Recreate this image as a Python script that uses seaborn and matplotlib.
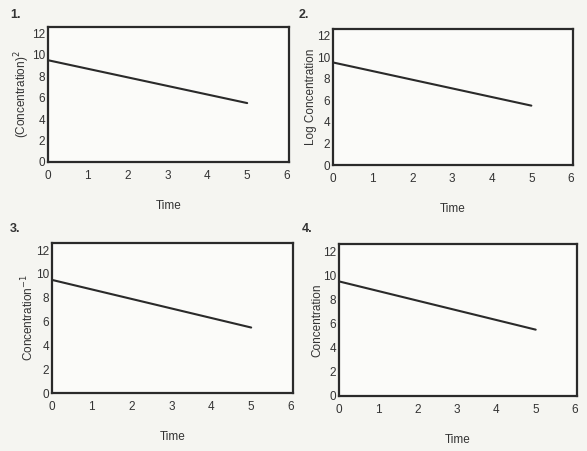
import matplotlib
matplotlib.use("Agg")
import matplotlib.pyplot as plt
import seaborn as sns
import pandas as pd

sns.set_theme(style="white")
plt.rcParams['font.family'] = ['Liberation Sans', 'DejaVu Sans']

time = [0, 5]
values = [9.5, 5.5]
x_ticks = [0, 1, 2, 3, 4, 5, 6]
y_ticks = [0, 2, 4, 6, 8, 10, 12]
panel_numbers = ["1.", "2.", "3.", "4."]
y_labels = ["(Concentration)$^2$", "Log Concentration", "Concentration$^{-1}$", "Concentration"]
x_label = "Time"

df = pd.DataFrame({"Time": time, "Value": values})

W, H = 587, 451
fig = plt.figure(figsize=(W / 100, H / 100), dpi=100)
fig.patch.set_facecolor("#f5f5f1")

# (left, top, right, bottom) in pixels
boxes = [(48, 27, 289, 162), (333, 29, 573, 165), (52, 243, 293, 393), (339, 244, 577, 396)]
num_pos = [(10, 15), (299, 15), (10, 229), (302, 229)]

for i, (l, t, r, b) in enumerate(boxes):
    ax = fig.add_axes([l / W, 1 - b / H, (r - l) / W, (b - t) / H])
    ax.set_facecolor("#fbfbf9")
    sns.lineplot(data=df, x="Time", y="Value", ax=ax, color="#2a2a2a", linewidth=1.5)
    ax.set_xlim(0, 6.05)
    ax.set_ylim(0, 12.6)
    ax.set_xticks(x_ticks)
    ax.set_yticks(y_ticks)
    ax.tick_params(axis="both", length=0, labelsize=8.5, colors="#333333")
    ax.tick_params(axis="x", pad=6)
    ax.tick_params(axis="y", pad=2)
    for s in ax.spines.values():
        s.set_visible(True)
        s.set_color("#2a2a2a")
        s.set_linewidth(1.6)
    ax.set_xlabel(x_label, fontsize=8.5, color="#333333", labelpad=13)
    ax.set_ylabel(y_labels[i], fontsize=8.5, color="#333333", labelpad=0)
    fig.text(num_pos[i][0] / W, 1 - num_pos[i][1] / H, panel_numbers[i],
             fontsize=9, fontweight="bold", color="#333333", va="center", ha="left")

fig.savefig("out.png", dpi=100, facecolor=fig.get_facecolor())
